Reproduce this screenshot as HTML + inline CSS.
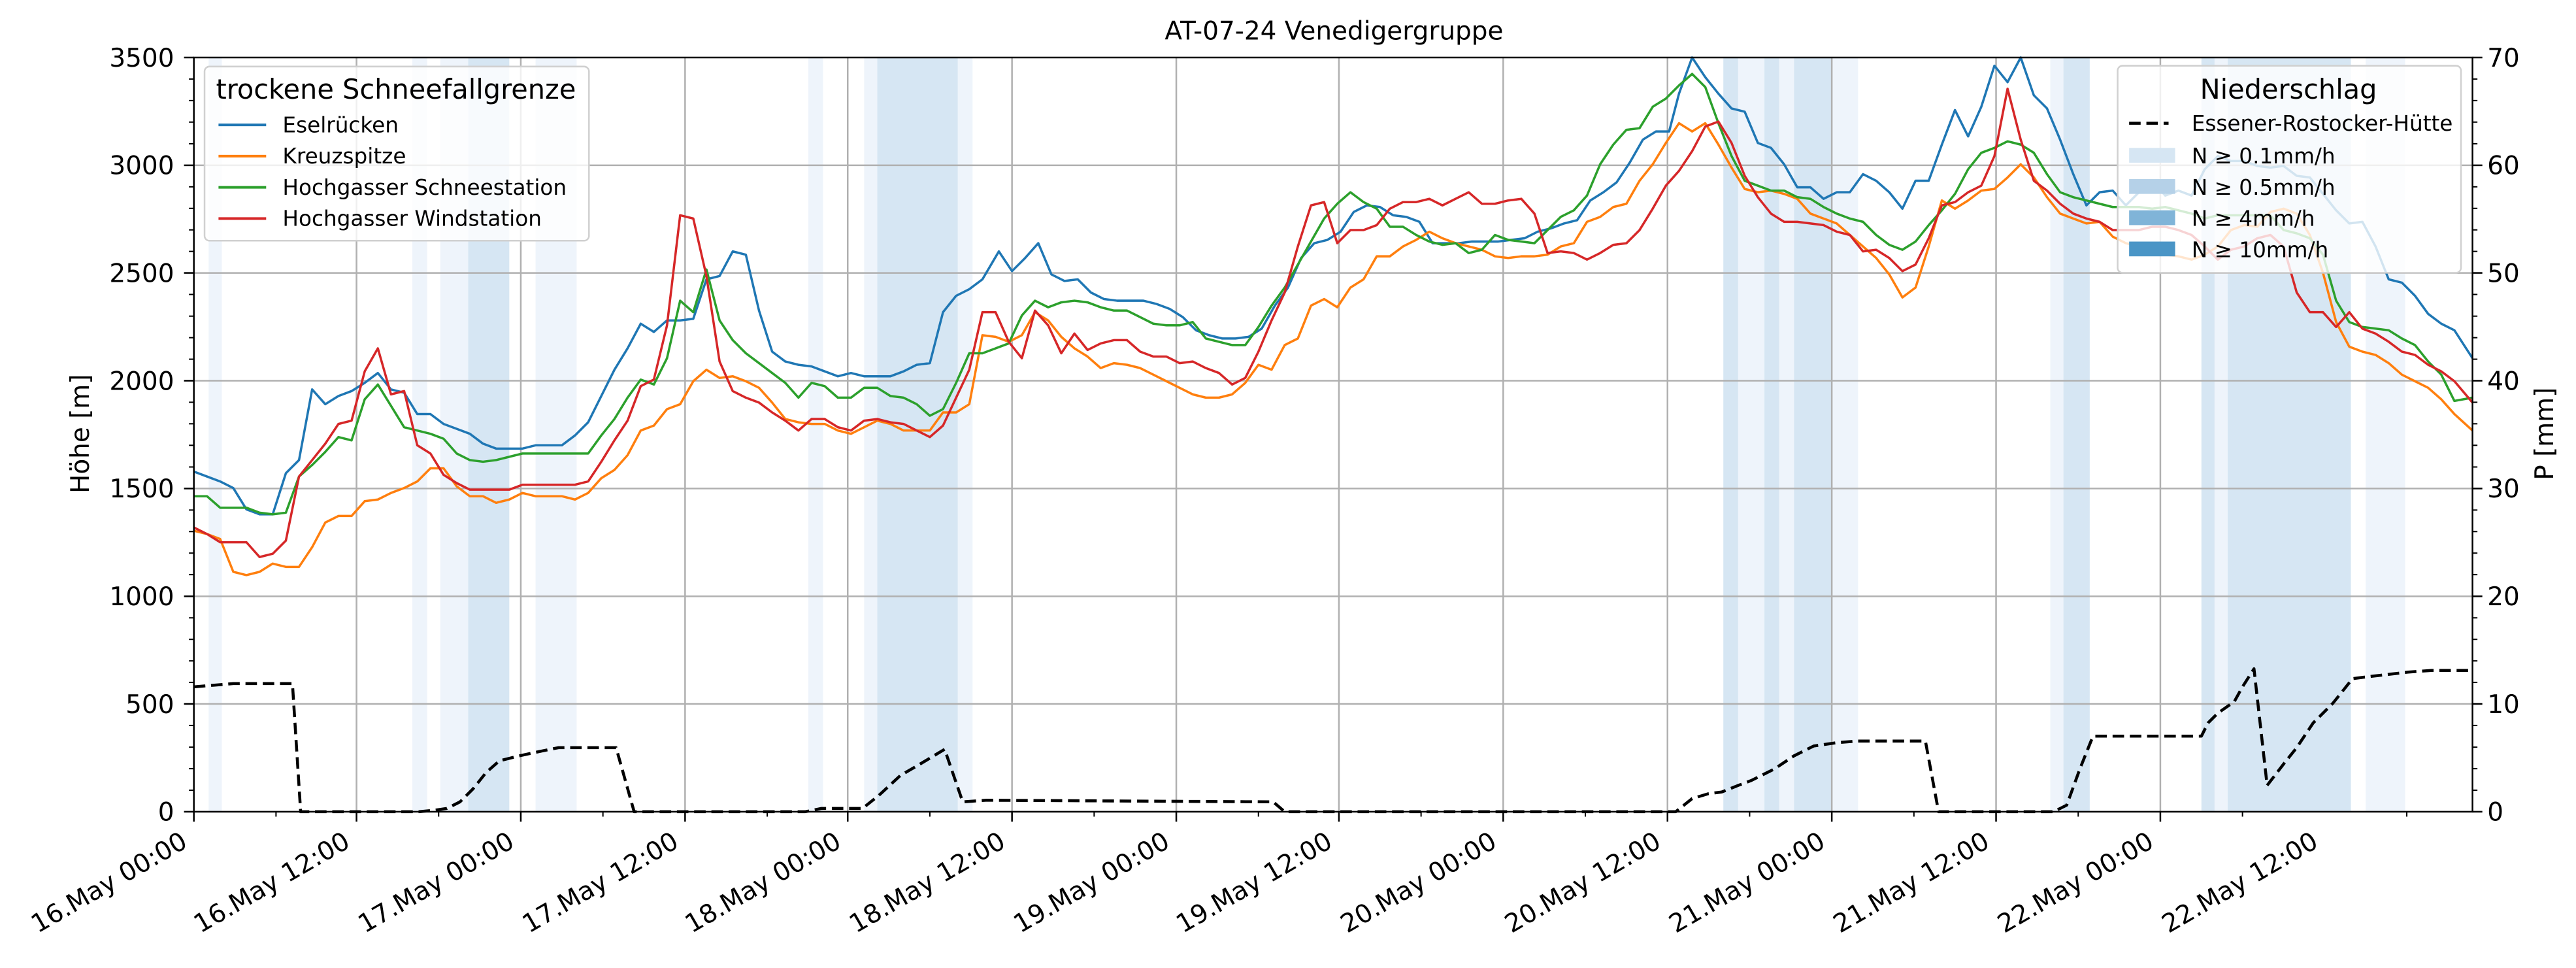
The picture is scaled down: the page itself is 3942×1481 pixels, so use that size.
<!DOCTYPE html>
<html><head><meta charset="utf-8"><style>html,body{margin:0;padding:0;background:#fff}svg{display:block}text{font-family:"DejaVu Sans","Liberation Sans",sans-serif;fill:#000}</style></head>
<body>
<svg xmlns="http://www.w3.org/2000/svg" width="3942" height="1481" viewBox="0 0 1568 589.1">
<rect width="1568" height="589.1" fill="#fff"/>
<g fill="#eef4fb">
<rect x="127" y="35" width="8" height="459"/><rect x="251" y="35" width="9" height="459"/><rect x="268" y="35" width="17" height="459"/>
<rect x="326" y="35" width="25" height="459"/><rect x="492" y="35" width="9" height="459"/><rect x="526" y="35" width="8" height="459"/>
<rect x="583" y="35" width="9" height="459"/><rect x="1058" y="35" width="16" height="459"/><rect x="1083" y="35" width="9" height="459"/>
<rect x="1115" y="35" width="16" height="459"/><rect x="1248" y="35" width="8" height="459"/><rect x="1348" y="35" width="8" height="459"/>
<rect x="1440" y="35" width="24" height="459"/>
</g>
<g fill="#d6e6f3">
<rect x="285" y="35" width="25" height="459"/><rect x="534" y="35" width="49" height="459"/><rect x="1049" y="35" width="9" height="459"/>
<rect x="1074" y="35" width="9" height="459"/><rect x="1092" y="35" width="23" height="459"/><rect x="1256" y="35" width="16" height="459"/>
<rect x="1340" y="35" width="8" height="459"/><rect x="1356" y="35" width="75" height="459"/>
</g>
<g stroke="#b0b0b0" stroke-width="1">
<line x1="217" y1="35" x2="217" y2="494"/><line x1="317" y1="35" x2="317" y2="494"/><line x1="417" y1="35" x2="417" y2="494"/>
<line x1="516" y1="35" x2="516" y2="494"/><line x1="616" y1="35" x2="616" y2="494"/><line x1="716" y1="35" x2="716" y2="494"/>
<line x1="815" y1="35" x2="815" y2="494"/><line x1="915" y1="35" x2="915" y2="494"/><line x1="1015" y1="35" x2="1015" y2="494"/>
<line x1="1115" y1="35" x2="1115" y2="494"/><line x1="1215" y1="35" x2="1215" y2="494"/><line x1="1315" y1="35" x2="1315" y2="494"/>
<line x1="118" y1="428.4" x2="1505" y2="428.4"/><line x1="118" y1="362.9" x2="1505" y2="362.9"/><line x1="118" y1="297.3" x2="1505" y2="297.3"/>
<line x1="118" y1="231.7" x2="1505" y2="231.7"/><line x1="118" y1="166.1" x2="1505" y2="166.1"/><line x1="118" y1="100.6" x2="1505" y2="100.6"/>
</g>
<g fill="none" stroke-width="1.4" stroke-linejoin="round">
<polyline stroke="#1f77b4" points="118,287 126,290 134,293 142,297 150,310 158,313 166,313 174,288 182,280 190,237 198,246 206,241 214,238 222,233 230,227 238,237 246,239 254,252 262,252 270,258 278,261 286,264 294,270 302,273 310,273 318,273 326,271 334,271 342,271 350,265 358,257 366,241 374,225 382,212 390,197 398,202 406,195 414,195 422,194 430,170 438,168 446,153 454,155 462,189 470,214 478,220 486,222 494,223 502,226 510,229 518,227 526,229 534,229 542,229 550,226 558,222 566,221 574,190 582,180 590,176 598,170 608,153 616,165 624,157 632,148 640,167 648,171 656,170 664,178 672,182 680,183 688,183 696,183 704,185 712,188 720,193 728,201 736,204 744,206 752,206 760,205 768,200 776,186 784,175 792,157 800,148 808,146 816,141 824,129 832,125 840,126 848,131 856,132 864,135 872,148 880,148 888,148 896,147 904,147 912,147 920,146 928,145 936,141 944,139 952,136 960,134 968,122 976,117 984,111 992,99 1000,85 1008,80 1016,80 1022,57 1030,35 1038,47 1046,57 1054,66 1062,68 1070,87 1078,90 1086,100 1094,114 1102,114 1110,121 1118,117 1126,117 1134,106 1142,110 1150,117 1158,127 1166,110 1174,110 1182,88 1190,67 1198,83 1206,65 1214,40 1222,50 1230,35 1238,58 1246,66 1254,85 1262,106 1270,125 1278,117 1286,116 1294,125 1302,117 1310,110 1318,119 1326,116 1334,119 1342,103 1350,95 1358,98 1366,98 1374,101 1382,102 1390,101 1398,107 1406,108 1414,118 1422,128 1430,136 1438,135 1446,150 1454,170 1462,172 1470,180 1478,191 1486,197 1494,201 1505,218"/>
<polyline stroke="#ff7f0e" points="118,323 126,325 134,328 142,348 150,350 158,348 166,343 174,345 182,345 190,333 198,318 206,314 214,314 222,305 230,304 238,300 246,297 254,293 262,285 270,285 278,296 286,302 294,302 302,306 310,304 318,300 326,302 334,302 342,302 350,304 358,300 366,291 374,286 382,277 390,262 398,259 406,249 414,246 422,232 430,225 438,230 446,229 454,232 462,236 470,245 478,255 486,257 494,258 502,258 510,262 518,264 526,260 534,256 542,258 550,262 558,262 566,262 574,251 582,251 590,246 598,204 606,205 614,208 622,204 630,190 638,195 646,205 654,212 662,217 670,224 678,221 686,222 694,224 702,228 710,232 718,236 726,240 734,242 742,242 750,240 758,233 766,222 774,225 782,210 790,206 798,186 806,182 814,187 822,175 830,170 838,156 846,156 854,150 862,146 870,141 878,145 886,148 894,150 902,152 910,156 918,157 926,156 934,156 942,155 950,150 958,148 966,135 974,132 982,126 990,124 998,110 1006,100 1014,87 1022,75 1030,80 1038,75 1046,88 1054,102 1062,115 1070,117 1078,116 1086,118 1094,121 1102,130 1110,133 1118,136 1126,143 1134,150 1142,157 1150,167 1158,181 1166,175 1174,150 1182,122 1190,127 1198,122 1206,116 1214,115 1222,108 1230,100 1238,108 1246,120 1254,130 1262,133 1270,136 1278,135 1286,144 1294,148 1302,150 1310,152 1318,155 1326,156 1334,158 1342,155 1350,150 1358,140 1366,137 1374,138 1382,129 1390,127 1398,130 1406,143 1414,166 1422,196 1430,211 1438,214 1446,216 1454,221 1462,228 1470,232 1478,236 1486,243 1494,252 1505,262"/>
<polyline stroke="#2ca02c" points="118,302 126,302 134,309 142,309 150,309 158,312 166,313 174,312 182,290 190,283 198,275 206,266 214,268 222,243 230,234 238,247 246,260 254,262 262,264 270,267 278,276 286,280 294,281 302,280 310,278 318,276 326,276 334,276 342,276 350,276 358,276 366,265 374,255 382,242 390,231 398,234 406,218 414,183 422,190 430,164 438,195 446,207 454,215 462,221 470,227 478,233 486,242 494,233 502,235 510,242 518,242 526,236 534,236 542,241 550,242 558,246 566,253 574,249 582,233 590,215 598,215 606,212 614,209 622,192 630,183 638,187 646,184 654,183 662,184 670,187 678,189 686,189 694,193 702,197 710,198 718,198 726,196 734,206 742,208 750,210 758,210 766,199 774,186 782,175 790,161 798,147 806,133 814,124 822,117 830,123 838,127 846,138 854,138 862,143 870,147 878,149 886,148 894,154 902,152 910,143 918,146 926,147 934,148 942,140 950,132 958,128 966,119 974,100 982,88 990,79 998,78 1006,65 1014,60 1022,52 1030,45 1038,53 1046,75 1054,95 1062,110 1070,113 1078,116 1086,116 1094,120 1102,121 1110,126 1118,130 1126,133 1134,135 1142,143 1150,149 1158,152 1166,147 1174,137 1182,128 1190,118 1198,103 1206,93 1214,90 1222,86 1230,88 1238,93 1246,106 1254,117 1262,120 1270,122 1278,124 1286,126 1294,126 1302,126 1310,127 1318,126 1326,128 1334,130 1342,133 1350,131 1358,131 1366,131 1374,131 1382,131 1390,140 1398,142 1406,145 1414,155 1422,183 1430,196 1438,199 1446,200 1454,201 1462,206 1470,210 1478,220 1486,228 1494,244 1505,242"/>
<polyline stroke="#d62728" points="118,321 126,325 134,330 142,330 150,330 158,339 166,337 174,329 182,290 190,280 198,270 206,258 214,256 222,226 230,212 238,240 246,238 254,271 262,276 270,289 278,294 286,298 294,298 302,298 310,298 318,295 326,295 334,295 342,295 350,295 358,293 366,281 374,268 382,256 390,235 398,231 406,198 414,131 422,133 430,168 438,220 446,238 454,242 462,245 470,251 478,256 486,262 494,255 502,255 510,260 518,262 526,256 534,255 542,257 550,258 558,262 566,266 574,259 582,242 590,225 598,190 606,190 614,208 622,218 630,189 638,198 646,215 654,203 662,213 670,209 678,207 686,207 694,214 702,217 710,217 718,221 726,220 734,224 742,227 750,234 758,230 766,214 774,195 782,178 790,150 798,125 806,123 814,148 822,140 830,140 838,137 846,127 854,123 862,123 870,121 878,125 886,121 894,117 902,124 910,124 918,122 926,121 934,130 942,154 950,153 958,154 966,158 974,154 982,149 990,148 998,140 1006,127 1014,113 1022,104 1030,92 1038,77 1046,74 1054,87 1062,107 1070,120 1078,130 1086,135 1094,135 1102,136 1110,137 1118,141 1126,143 1134,153 1142,152 1150,157 1158,165 1166,161 1174,145 1182,125 1190,123 1198,117 1206,113 1214,95 1222,54 1230,85 1238,110 1246,116 1254,124 1262,130 1270,133 1278,135 1286,140 1294,140 1302,140 1310,138 1318,138 1326,140 1334,143 1342,150 1350,158 1358,152 1366,150 1374,145 1382,143 1390,150 1398,178 1406,190 1414,190 1422,199 1430,190 1438,200 1446,203 1454,208 1462,214 1470,216 1478,222 1486,226 1494,232 1505,245"/>
<polyline stroke="#000" stroke-width="1.8" stroke-dasharray="7,3.5" points="118,418 130,417 142,416 178,416 183,494 255,494 265,493 272,492 280,488 288,480 296,470 304,463 316,460 330,457 340,455 375,455 386,494 490,494 500,492 525,492 535,484 548,472 560,465 575,456 586,488 600,487 775,488 782,494 1020,494 1030,486 1040,483 1048,482 1058,478 1066,475 1080,468 1092,460 1104,454 1118,452 1130,451 1172,451 1180,494 1250,494 1258,490 1266,468 1274,448 1340,448 1344,440 1350,434 1360,427 1365,418 1372,407 1380,478 1390,465 1398,455 1408,440 1420,428 1428,418 1432,413 1440,412 1466,409 1480,408 1505,408"/>
</g>
<rect x="118" y="35" width="1387" height="459" fill="none" stroke="#000" stroke-width="1"/>
<g stroke="#000" stroke-width="1">
<line x1="112" y1="494" x2="118" y2="494"/><line x1="112" y1="428.4" x2="118" y2="428.4"/><line x1="112" y1="362.9" x2="118" y2="362.9"/><line x1="112" y1="297.3" x2="118" y2="297.3"/><line x1="112" y1="231.7" x2="118" y2="231.7"/><line x1="112" y1="166.1" x2="118" y2="166.1"/><line x1="112" y1="100.6" x2="118" y2="100.6"/><line x1="112" y1="35" x2="118" y2="35"/>
<line x1="1505" y1="494" x2="1511" y2="494"/><line x1="1505" y1="428.4" x2="1511" y2="428.4"/><line x1="1505" y1="362.9" x2="1511" y2="362.9"/><line x1="1505" y1="297.3" x2="1511" y2="297.3"/><line x1="1505" y1="231.7" x2="1511" y2="231.7"/><line x1="1505" y1="166.1" x2="1511" y2="166.1"/><line x1="1505" y1="100.6" x2="1511" y2="100.6"/><line x1="1505" y1="35" x2="1511" y2="35"/>
</g>
<g stroke="#000" stroke-width="0.8">
<line x1="115" y1="480.9" x2="118" y2="480.9"/><line x1="115" y1="467.8" x2="118" y2="467.8"/><line x1="115" y1="454.7" x2="118" y2="454.7"/><line x1="115" y1="441.5" x2="118" y2="441.5"/>
<line x1="115" y1="415.3" x2="118" y2="415.3"/><line x1="115" y1="402.2" x2="118" y2="402.2"/><line x1="115" y1="389.1" x2="118" y2="389.1"/><line x1="115" y1="376" x2="118" y2="376"/>
<line x1="115" y1="349.7" x2="118" y2="349.7"/><line x1="115" y1="336.6" x2="118" y2="336.6"/><line x1="115" y1="323.5" x2="118" y2="323.5"/><line x1="115" y1="310.4" x2="118" y2="310.4"/>
<line x1="115" y1="284.2" x2="118" y2="284.2"/><line x1="115" y1="271" x2="118" y2="271"/><line x1="115" y1="257.9" x2="118" y2="257.9"/><line x1="115" y1="244.8" x2="118" y2="244.8"/>
<line x1="115" y1="218.6" x2="118" y2="218.6"/><line x1="115" y1="205.5" x2="118" y2="205.5"/><line x1="115" y1="192.4" x2="118" y2="192.4"/><line x1="115" y1="179.2" x2="118" y2="179.2"/>
<line x1="115" y1="153" x2="118" y2="153"/><line x1="115" y1="139.9" x2="118" y2="139.9"/><line x1="115" y1="126.8" x2="118" y2="126.8"/><line x1="115" y1="113.7" x2="118" y2="113.7"/>
<line x1="115" y1="87.5" x2="118" y2="87.5"/><line x1="115" y1="74.3" x2="118" y2="74.3"/><line x1="115" y1="61.2" x2="118" y2="61.2"/><line x1="115" y1="48.1" x2="118" y2="48.1"/>
<line x1="1505" y1="480.9" x2="1508" y2="480.9"/><line x1="1505" y1="467.8" x2="1508" y2="467.8"/><line x1="1505" y1="454.7" x2="1508" y2="454.7"/><line x1="1505" y1="441.5" x2="1508" y2="441.5"/>
<line x1="1505" y1="415.3" x2="1508" y2="415.3"/><line x1="1505" y1="402.2" x2="1508" y2="402.2"/><line x1="1505" y1="389.1" x2="1508" y2="389.1"/><line x1="1505" y1="376" x2="1508" y2="376"/>
<line x1="1505" y1="349.7" x2="1508" y2="349.7"/><line x1="1505" y1="336.6" x2="1508" y2="336.6"/><line x1="1505" y1="323.5" x2="1508" y2="323.5"/><line x1="1505" y1="310.4" x2="1508" y2="310.4"/>
<line x1="1505" y1="284.2" x2="1508" y2="284.2"/><line x1="1505" y1="271" x2="1508" y2="271"/><line x1="1505" y1="257.9" x2="1508" y2="257.9"/><line x1="1505" y1="244.8" x2="1508" y2="244.8"/>
<line x1="1505" y1="218.6" x2="1508" y2="218.6"/><line x1="1505" y1="205.5" x2="1508" y2="205.5"/><line x1="1505" y1="192.4" x2="1508" y2="192.4"/><line x1="1505" y1="179.2" x2="1508" y2="179.2"/>
<line x1="1505" y1="153" x2="1508" y2="153"/><line x1="1505" y1="139.9" x2="1508" y2="139.9"/><line x1="1505" y1="126.8" x2="1508" y2="126.8"/><line x1="1505" y1="113.7" x2="1508" y2="113.7"/>
<line x1="1505" y1="87.5" x2="1508" y2="87.5"/><line x1="1505" y1="74.3" x2="1508" y2="74.3"/><line x1="1505" y1="61.2" x2="1508" y2="61.2"/><line x1="1505" y1="48.1" x2="1508" y2="48.1"/>
</g>
<g stroke="#000" stroke-width="1">
<line x1="118" y1="494" x2="118" y2="500"/><line x1="217" y1="494" x2="217" y2="500"/><line x1="317" y1="494" x2="317" y2="500"/><line x1="417" y1="494" x2="417" y2="500"/><line x1="516" y1="494" x2="516" y2="500"/><line x1="616" y1="494" x2="616" y2="500"/><line x1="716" y1="494" x2="716" y2="500"/><line x1="815" y1="494" x2="815" y2="500"/><line x1="915" y1="494" x2="915" y2="500"/><line x1="1015" y1="494" x2="1015" y2="500"/><line x1="1115" y1="494" x2="1115" y2="500"/><line x1="1215" y1="494" x2="1215" y2="500"/><line x1="1315" y1="494" x2="1315" y2="500"/>
</g>
<g stroke="#000" stroke-width="0.8">
<line x1="168" y1="494" x2="168" y2="497"/><line x1="267" y1="494" x2="267" y2="497"/><line x1="367" y1="494" x2="367" y2="497"/><line x1="467" y1="494" x2="467" y2="497"/><line x1="566" y1="494" x2="566" y2="497"/><line x1="666" y1="494" x2="666" y2="497"/><line x1="766" y1="494" x2="766" y2="497"/><line x1="865" y1="494" x2="865" y2="497"/><line x1="965" y1="494" x2="965" y2="497"/><line x1="1065" y1="494" x2="1065" y2="497"/><line x1="1165" y1="494" x2="1165" y2="497"/><line x1="1265" y1="494" x2="1265" y2="497"/><line x1="1365" y1="494" x2="1365" y2="497"/><line x1="1465" y1="494" x2="1465" y2="497"/>
</g>
<g font-size="15.5" text-anchor="end">
<text x="106" y="499.5">0</text><text x="106" y="433.9">500</text><text x="106" y="368.4">1000</text><text x="106" y="302.8">1500</text><text x="106" y="237.2">2000</text><text x="106" y="171.6">2500</text><text x="106" y="106.1">3000</text><text x="106" y="40.5">3500</text>
</g>
<g font-size="15.5" text-anchor="start">
<text x="1514" y="499.5">0</text><text x="1514" y="433.9">10</text><text x="1514" y="368.4">20</text><text x="1514" y="302.8">30</text><text x="1514" y="237.2">40</text><text x="1514" y="171.6">50</text><text x="1514" y="106.1">60</text><text x="1514" y="40.5">70</text>
</g>
<g font-size="15.5" text-anchor="end">
<text transform="translate(115,515) rotate(-30)">16.May 00:00</text>
<text transform="translate(214,515) rotate(-30)">16.May 12:00</text>
<text transform="translate(314,515) rotate(-30)">17.May 00:00</text>
<text transform="translate(414,515) rotate(-30)">17.May 12:00</text>
<text transform="translate(513,515) rotate(-30)">18.May 00:00</text>
<text transform="translate(613,515) rotate(-30)">18.May 12:00</text>
<text transform="translate(713,515) rotate(-30)">19.May 00:00</text>
<text transform="translate(812,515) rotate(-30)">19.May 12:00</text>
<text transform="translate(912,515) rotate(-30)">20.May 00:00</text>
<text transform="translate(1012,515) rotate(-30)">20.May 12:00</text>
<text transform="translate(1112,515) rotate(-30)">21.May 00:00</text>
<text transform="translate(1212,515) rotate(-30)">21.May 12:00</text>
<text transform="translate(1312,515) rotate(-30)">22.May 00:00</text>
<text transform="translate(1412,515) rotate(-30)">22.May 12:00</text>
</g>
<text x="812" y="24" font-size="15.5" text-anchor="middle">AT-07-24 Venedigergruppe</text>
<text transform="translate(54,264) rotate(-90)" font-size="15.5" text-anchor="middle">Höhe [m]</text>
<text transform="translate(1554,264) rotate(-90)" font-size="15.5" text-anchor="middle">P [mm]</text>
<rect x="124.5" y="40.5" width="234" height="106" rx="3" fill="#fff" fill-opacity="0.8" stroke="#d0d0d0" stroke-width="1"/>
<text x="241" y="60" font-size="16.5" text-anchor="middle">trockene Schneefallgrenze</text>
<g stroke-width="1.6">
<line x1="133" y1="76" x2="162" y2="76" stroke="#1f77b4"/><line x1="133" y1="95" x2="162" y2="95" stroke="#ff7f0e"/>
<line x1="133" y1="114" x2="162" y2="114" stroke="#2ca02c"/><line x1="133" y1="133" x2="162" y2="133" stroke="#d62728"/>
</g>
<g font-size="13">
<text x="172" y="80.5">Eselrücken</text><text x="172" y="99.5">Kreuzspitze</text><text x="172" y="118.5">Hochgasser Schneestation</text><text x="172" y="137.5">Hochgasser Windstation</text>
</g>
<rect x="1289" y="40" width="209" height="126" rx="3" fill="#fff" fill-opacity="0.8" stroke="#d0d0d0" stroke-width="1"/>
<text x="1393" y="60" font-size="16.5" text-anchor="middle">Niederschlag</text>
<line x1="1296" y1="75" x2="1320" y2="75" stroke="#000" stroke-width="1.8" stroke-dasharray="7,3.5"/>
<rect x="1296" y="90" width="28" height="9" fill="#d6e6f3"/>
<rect x="1296" y="109" width="28" height="9" fill="#b5d1e8"/>
<rect x="1296" y="128" width="28" height="9" fill="#80b4d8"/>
<rect x="1296" y="147" width="28" height="9" fill="#4a95c6"/>
<g font-size="13">
<text x="1334" y="79.5">Essener-Rostocker-Hütte</text><text x="1334" y="99.5">N ≥ 0.1mm/h</text><text x="1334" y="118.5">N ≥ 0.5mm/h</text><text x="1334" y="137.5">N ≥ 4mm/h</text><text x="1334" y="156.5">N ≥ 10mm/h</text>
</g>
</svg>
</body></html>
